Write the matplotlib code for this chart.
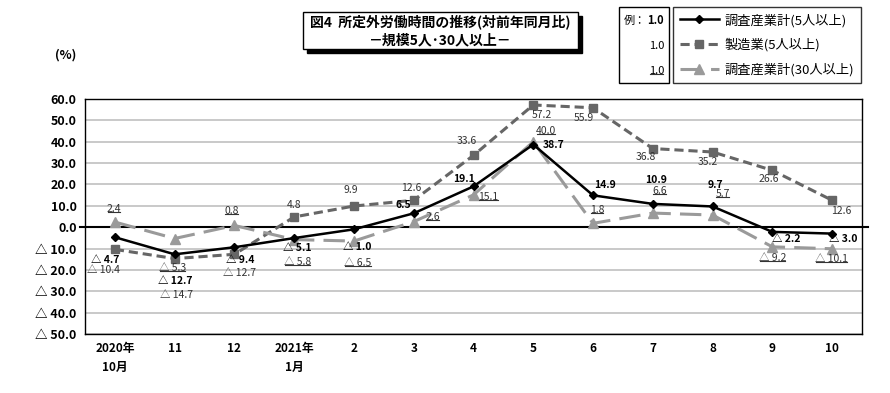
import matplotlib
matplotlib.use("Agg")
import matplotlib.pyplot as plt
from matplotlib.lines import Line2D
from matplotlib.patches import Rectangle

plt.rcParams['font.family'] = ['Noto Sans CJK JP', 'DejaVu Sans']

# data (% change from same month of previous year)
months = ['2020年\n10月', '11', '12', '2021年\n1月', '2', '3', '4', '5', '6', '7', '8', '9', '10']
total_5 = [-4.7, -12.7, -9.4, -5.1, -1.0, 6.5, 19.1, 38.7, 14.9, 10.9, 9.7, -2.2, -3.0]
manuf_5 = [-10.4, -14.7, -12.7, 4.8, 9.9, 12.6, 33.6, 57.2, 55.9, 36.8, 35.2, 26.6, 12.6]
total_30 = [2.4, -5.3, 0.8, -5.8, -6.5, 2.6, 15.1, 40.0, 1.8, 6.6, 5.7, -9.2, -10.1]
y_ticks = [60, 50, 40, 30, 20, 10, 0, -10, -20, -30, -40, -50]

# label offsets in pixels (dx, dy)
off_total = [(-10, -23), (1, -27), (6, -13), (3, -10), (3, -18), (-10, 8), (-9, 7),
             (20, 0), (12, 10), (3, 24), (3, 21), (14, -7), (11, -5)]
off_manuf = [(-11, -21), (2, -36), (5, -19), (0, 12), (-3, 16), (-2, 12), (-7, 14),
             (9, -10), (-9, -10), (-7, -8), (-5, -10), (-4, -9), (9, -11)]
off_30 = [(-1, 13), (-2, -29), (-3, 14), (3, -22), (4, -22), (19, 5), (15, -2),
          (13, 11), (4, 13), (7, 22), (10, 21), (0, -11), (-1, -10)]


def fmt(v):
    return f'△ {abs(v):.1f}' if v < 0 else f'{v:.1f}'


fig = plt.figure(figsize=(8.9, 3.93), dpi=100)
ax = fig.add_axes([85 / 890, 1 - 334 / 393, 777 / 890, 235 / 393])

x = list(range(len(months)))
ax.plot(x, manuf_5, color='#666666', lw=2.2, dashes=(3, 1.6), marker='s', ms=6, zorder=3)
ax.plot(x, total_30, color='#9a9a9a', lw=2.2, dashes=(7, 3), marker='^', ms=7, zorder=3)
ax.plot(x, total_5, color='black', lw=1.8, marker='D', ms=4, zorder=4)

ax.set_xlim(-0.5, len(months) - 0.5)
ax.set_ylim(-50, 60)
ax.set_yticks(y_ticks)
ax.set_yticklabels([fmt(v) for v in y_ticks], fontsize=9, fontweight='bold')
ax.set_xticks(x)
ax.set_xticklabels(months, fontsize=8.5, fontweight='bold', linespacing=1.6, va='top')
ax.tick_params(length=0, pad=6)
ax.grid(axis='y', color='#c0c0c0', lw=1.2)
ax.set_axisbelow(True)
for s in ax.spines.values():
    s.set_linewidth(1.0)
ax.add_line(Line2D([-0.006, 1.008], [50 / 110, 50 / 110], transform=ax.transAxes,
                   color='black', lw=1.5, clip_on=False, zorder=2))

underlined = []
for i in x:
    ax.annotate(fmt(total_5[i]), (i, total_5[i]), xytext=off_total[i], textcoords='offset pixels',
                ha='center', va='center', fontsize=7.5, fontweight='bold', color='black', zorder=5)
    ax.annotate(fmt(manuf_5[i]), (i, manuf_5[i]), xytext=off_manuf[i], textcoords='offset pixels',
                ha='center', va='center', fontsize=7.5, color='#333333', zorder=5)
    t = ax.annotate(fmt(total_30[i]), (i, total_30[i]), xytext=off_30[i], textcoords='offset pixels',
                    ha='center', va='center', fontsize=7.5, color='#333333', zorder=5)
    underlined.append(t)

fig.text(55 / 890, 1 - 55 / 393, '(%)', fontsize=9, fontweight='bold', va='center')

# title box with shadow
fig.add_artist(Rectangle((307 / 890, 1 - 53 / 393), 275 / 890, 37 / 393,
                         transform=fig.transFigure, facecolor='black', edgecolor='black'))
fig.add_artist(Rectangle((303 / 890, 1 - 49 / 393), 275 / 890, 37 / 393,
                         transform=fig.transFigure, facecolor='white', edgecolor='black', lw=1))
fig.text(440 / 890, 1 - 22 / 393, '図4  所定外労働時間の推移(対前年同月比)', ha='center', va='center',
         fontsize=10, fontweight='bold')
fig.text(440 / 890, 1 - 40 / 393, '－規模5人･30人以上－', ha='center', va='center',
         fontsize=10, fontweight='bold')

# example box
fig.add_artist(Rectangle((619 / 890, 1 - 83 / 393), 50 / 890, 76 / 393,
                         transform=fig.transFigure, facecolor='white', edgecolor='black', lw=1))
fig.text(624 / 890, 1 - 21 / 393, '例：', fontsize=8, va='center')
fig.text(664 / 890, 1 - 21 / 393, '1.0', fontsize=8, fontweight='bold', va='center', ha='right')
fig.text(664 / 890, 1 - 46 / 393, '1.0', fontsize=8, va='center', ha='right')
ex = fig.text(664 / 890, 1 - 71 / 393, '1.0', fontsize=8, va='center', ha='right')
underlined.append(ex)

# legend
handles = [Line2D([], [], color='black', lw=1.8, marker='D', ms=4),
           Line2D([], [], color='#666666', lw=2.2, dashes=(3, 1.6), marker='s', ms=6),
           Line2D([], [], color='#9a9a9a', lw=2.2, dashes=(7, 3), marker='^', ms=7)]
labels = ['調査産業計(5人以上)', '製造業(5人以上)', '調査産業計(30人以上)']
leg = fig.legend(handles, labels, loc='upper left', bbox_to_anchor=(673 / 890, 1 - 7 / 393),
                 fontsize=9.5, frameon=True, fancybox=False, edgecolor='black', borderaxespad=0,
                 handlelength=3.0, labelspacing=0.85, borderpad=0.5, handletextpad=0.4)
leg.get_frame().set_linewidth(1.0)

# underlines under selected labels
fig.canvas.draw()
r = fig.canvas.get_renderer()
inv = fig.transFigure.inverted()
for t in underlined:
    bb = t.get_window_extent(r)
    (x0, y0), (x1, _) = inv.transform([(bb.x0 + 1, bb.y0 + 2), (bb.x1 - 1, bb.y0 + 2)])
    fig.add_artist(Line2D([x0, x1], [y0, y0], transform=fig.transFigure, color='#333333', lw=0.8))

fig.savefig('out.png', dpi=100)
